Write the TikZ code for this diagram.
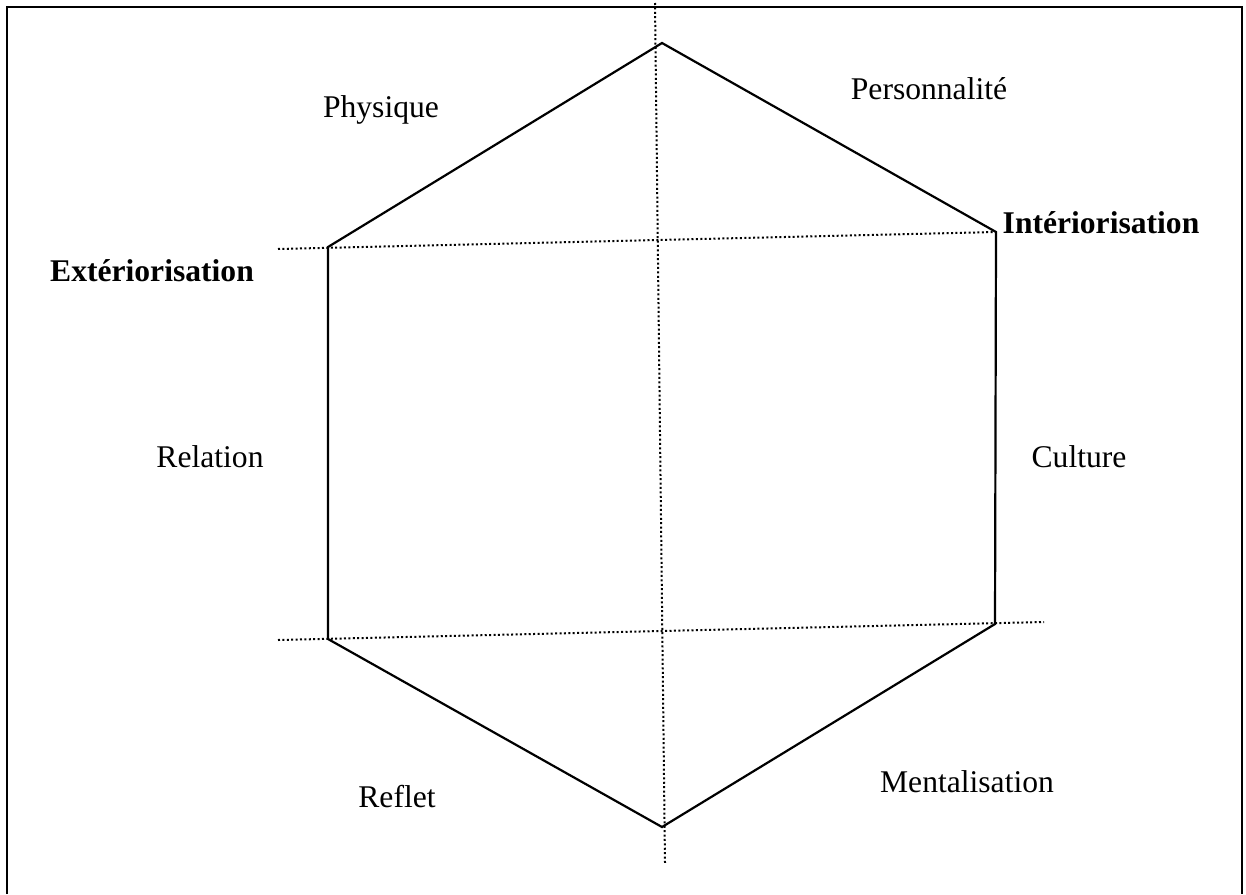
\documentclass[tikz,border=0pt]{standalone}
\usepackage{fontspec}
\setmainfont{Liberation Serif}

\tikzset{
  side/.style={black, line width=2.2pt},
  guide/.style={black, line width=2pt, dash pattern=on 2pt off 2.4pt},
  pole/.style={font=\fontsize{31.6}{38}\selectfont, anchor=base},
  bigpole/.style={font=\fontsize{31.6}{38}\selectfont\bfseries, anchor=base}
}

\begin{document}
\begin{tikzpicture}[x=1pt, y=-1pt]
                \useasboundingbox (0, 0) rectangle (1246, 894);
                % frame
                \draw [black, line width=2.4pt] (7, 894) -- (7, 7) -- (1242, 7) -- (1242, 894);
                % hexagon corners
                \coordinate (top) at (662, 43);
                \coordinate (upright) at (996, 232);
                \coordinate (lowright) at (995, 624);
                \coordinate (bottom) at (662, 827);
                \coordinate (lowleft) at (328, 639);
                \coordinate (upleft) at (328, 247);
                % guides
                \coordinate (axtop) at (655, 3);
                \coordinate (axbottom) at (665, 863);
                \coordinate (leftup) at (278, 249);
                \coordinate (leftlow) at (278, 640);
                \coordinate (rightlow) at (1044, 622);
                \draw [guide] (axtop) -- (axbottom);
                \draw [guide] (leftup) -- (upright);
                \draw [guide] (leftlow) -- (rightlow);
                \draw [side] (top) -- (upright) -- (lowright) -- (bottom) -- (lowleft) -- (upleft) -- cycle;
                % labels
                \node [pole] (physique) at (381, 117) {Physique};
                \node [pole] (perso) at (929, 99) {Personnalité};
                \node [bigpole] (interieur) at (1101, 233) {Intériorisation};
                \node [bigpole] (exterieur) at (152, 281) {Extériorisation};
                \node [pole] (relation) at (210, 467) {Relation};
                \node [pole] (culture) at (1079, 467) {Culture};
                \node [pole] (reflet) at (397, 807) {Reflet};
                \node [pole] (mental) at (967, 792) {Mentalisation};
\end{tikzpicture}
\end{document}
